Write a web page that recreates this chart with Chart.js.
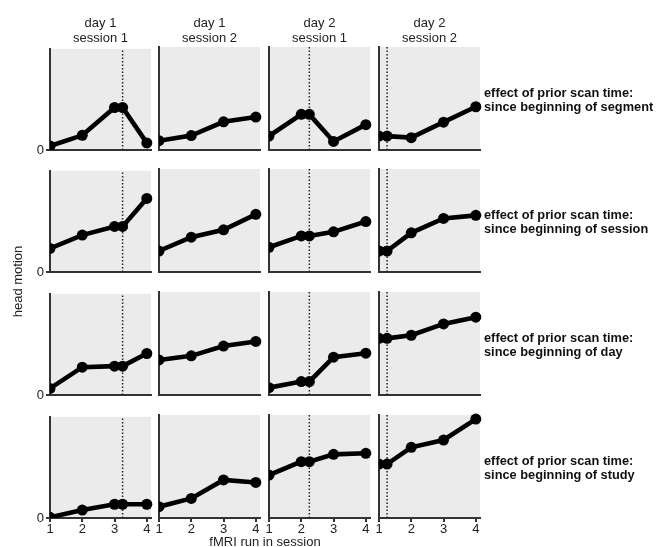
<!DOCTYPE html>
<html>
<head>
<meta charset="utf-8">
<script src="https://cdn.jsdelivr.net/npm/chart.js@4/dist/chart.umd.min.js"></script>
<style>
  html, body { margin: 0; padding: 0; background: #fff; }
  #fig { position: relative; width: 666px; height: 547px; overflow: hidden;
         font-family: 'Liberation Sans', Arial, sans-serif; color: #222; }
  #fig canvas { position: absolute; }
  .txt { position: absolute; font-size: 13px; line-height: 15px; white-space: nowrap; }
  .hdr { text-align: center; width: 101px; }
  .side { font-weight: bold; font-size: 12.8px; line-height: 14px; color: #111; }
</style>
</head>
<body>
<div id="fig"></div>
<script>
'use strict';

// ── Data ──────────────────────────────────────────────────────────────────
const COL_DAY     = ['day 1', 'day 1', 'day 2', 'day 2'];
const COL_SESSION = ['session 1', 'session 2', 'session 1', 'session 2'];
const RUN_TICKS   = [1, 2, 3, 4];
// run positions per session (segment break is drawn as a duplicated point)
const RUN_X = [
  [1, 2, 3, 3.25, 4],
  [1, 2, 3, 4],
  [1, 2, 2.25, 3, 4],
  [1, 1.25, 2, 3, 4],
];
const SEGMENT_BREAK = [3.25, null, 2.25, 1.25];

const ROW_LABELS = [
  ['effect of prior scan time:', 'since beginning of segment'],
  ['effect of prior scan time:', 'since beginning of session'],
  ['effect of prior scan time:', 'since beginning of day'],
  ['effect of prior scan time:', 'since beginning of study'],
];

// head motion (relative units, 0 = axis) per session column
const MOTION_SEGMENT = [
  [0.04, 0.145, 0.42, 0.42, 0.07],
  [0.09, 0.14, 0.274, 0.32],
  [0.135, 0.346, 0.346, 0.083, 0.246],
  [0.135, 0.135, 0.12, 0.27, 0.42],
];
const MOTION_SESSION = [
  [0.233, 0.365, 0.45, 0.45, 0.727],
  [0.204, 0.338, 0.41, 0.56],
  [0.24, 0.35, 0.35, 0.39, 0.49],
  [0.204, 0.204, 0.38, 0.52, 0.55],
];
const MOTION_DAY = [
  [0.065, 0.275, 0.285, 0.285, 0.41],
  [0.34, 0.38, 0.475, 0.52],
  [0.071, 0.13, 0.13, 0.367, 0.406],
  [0.55, 0.55, 0.58, 0.69, 0.755],
];
const MOTION_STUDY = [
  [0.007, 0.078, 0.136, 0.136, 0.136],
  [0.11, 0.19, 0.37, 0.345],
  [0.417, 0.547, 0.547, 0.618, 0.628],
  [0.524, 0.524, 0.686, 0.757, 0.96],
];
const ROWS = [MOTION_SEGMENT, MOTION_SESSION, MOTION_DAY, MOTION_STUDY];

// ── Layout ────────────────────────────────────────────────────────────────
const COL_LEFT = [50, 159, 269, 379];
const ROW_TOP  = [47, 169, 292, 415];
const PANEL_W  = 101;
const PANEL_H  = 103;
const PAD_L = 16, PAD_T = 8, PAD_R = 8, PAD_B = 20;
const FONT = "'Liberation Sans', Arial, sans-serif";
const AXIS_COL = '#333';

const fig = document.getElementById('fig');

function addText(html, cls, x, y, extra) {
  const d = document.createElement('div');
  d.className = 'txt ' + (cls || '');
  d.innerHTML = html;
  d.style.left = x + 'px';
  d.style.top = y + 'px';
  if (extra) Object.assign(d.style, extra);
  fig.appendChild(d);
  return d;
}

const panelBg = {
  id: 'panelBg',
  beforeDraw(chart) {
    const a = chart.chartArea, ctx = chart.ctx;
    ctx.save();
    ctx.fillStyle = '#ebebeb';
    ctx.fillRect(a.left, a.top, a.right - a.left, a.bottom - a.top);
    ctx.restore();
  },
};

function buildPanel(row, col) {
  const leftCol = col === 0;
  const bottomRow = row === 3;
  const canvas = document.createElement('canvas');
  canvas.width = PAD_L + PANEL_W + PAD_R;
  canvas.height = PAD_T + PANEL_H + PAD_B;
  canvas.style.left = (COL_LEFT[col] - PAD_L) + 'px';
  canvas.style.top = (ROW_TOP[row] - PAD_T) + 'px';
  fig.appendChild(canvas);

  const xs = RUN_X[col];
  const ys = ROWS[row][col];
  const clip = { left: 0, top: 8, right: 8, bottom: 0 };
  const datasets = [{
    data: xs.map((x, i) => ({ x, y: ys[i] })),
    borderColor: '#000',
    backgroundColor: '#000',
    borderWidth: 4.6,
    pointRadius: 5.5,
    pointBorderWidth: 0,
    pointBackgroundColor: '#000',
    tension: 0,
    clip,
  }];
  if (SEGMENT_BREAK[col] !== null) {
    datasets.push({
      data: [{ x: SEGMENT_BREAK[col], y: 0 }, { x: SEGMENT_BREAK[col], y: 1 }],
      borderColor: '#222',
      borderWidth: 1.5,
      borderDash: [1.5, 2],
      pointRadius: 0,
      clip,
    });
  }

  new Chart(canvas, {
    type: 'line',
    data: { datasets },
    options: {
      responsive: false,
      animation: false,
      events: [],
      layout: { padding: { top: PAD_T, right: PAD_R, left: 0, bottom: 0 } },
      plugins: { legend: { display: false }, tooltip: { enabled: false } },
      scales: {
        x: {
          type: 'linear', min: 1, max: 4.13,
          afterBuildTicks: s => { s.ticks = RUN_TICKS.map(v => ({ value: v })); },
          afterFit: s => { s.height = PAD_B; },
          ticks: { display: bottomRow, autoSkip: false, maxRotation: 0, padding: 0,
                   color: '#222', font: { family: FONT, size: 13 } },
          grid: { display: bottomRow, drawOnChartArea: false, tickLength: 4,
                  color: AXIS_COL, lineWidth: 2 },
          border: { display: true, color: AXIS_COL, width: 2 },
        },
        y: {
          type: 'linear', min: 0, max: 1,
          afterBuildTicks: s => { s.ticks = [{ value: 0 }]; },
          afterFit: s => { s.width = PAD_L; },
          ticks: { display: leftCol, padding: 2, color: '#222',
                   font: { family: FONT, size: 13 } },
          grid: { display: leftCol, drawOnChartArea: false, tickLength: 4,
                  color: AXIS_COL, lineWidth: 2 },
          border: { display: true, color: AXIS_COL, width: 2 },
        },
      },
    },
    plugins: [panelBg],
  });
}

for (let r = 0; r < 4; r++) {
  for (let c = 0; c < 4; c++) buildPanel(r, c);
}

// ── Text ──────────────────────────────────────────────────────────────────
COL_LEFT.forEach((x, c) => {
  addText(COL_DAY[c] + '<br>' + COL_SESSION[c], 'hdr', x, 15);
});
ROW_TOP.forEach((y, r) => {
  addText(ROW_LABELS[r].join('<br>'), 'side', 484, y + PANEL_H / 2 - 13);
});
addText('fMRI run in session', '', 0, 534, { width: '530px', textAlign: 'center' });
addText('head motion', '', -33, 274, { width: '100px', textAlign: 'center',
  transform: 'rotate(-90deg)' });
</script>
</body>
</html>
